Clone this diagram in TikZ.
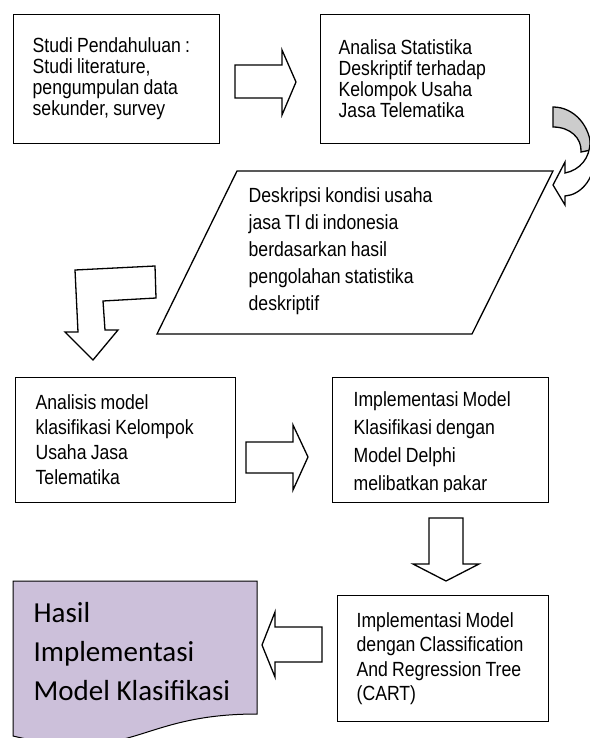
\documentclass[tikz,border=0pt]{standalone}
\usepackage{fontspec}
\setmainfont{Liberation Sans}[FakeStretch=0.86, WordSpace=0.86]
\newfontfamily\docfont{Carlito}
\usetikzlibrary{positioning}
\definecolor{figink}{HTML}{000000}
\definecolor{docfill}{HTML}{CCC0DA}
\definecolor{backfill}{HTML}{CCCCCC}

\begin{document}
\begin{tikzpicture}[
  x=1pt, y=-1pt,
  line width=1.3pt, line join=miter,
  box/.style = {draw=figink, line width=1.3pt, anchor=north west,
                align=flush left, inner xsep=19pt, inner ysep=0pt,
                font=\fontsize{20.5}{21}\selectfont},
  txt/.style = {anchor=west, align=left, inner sep=0pt},
  blockarrow/.style = {draw=figink, line width=1.3pt, fill=white}
]
\useasboundingbox (0,0) rectangle (589,738);

% baris atas
\node[box, text width=168pt, minimum width=206pt, minimum height=129pt]
  (studi) at (13,14)
  {Studi Pendahuluan :\\Studi literature,\\pengumpulan data\\sekunder, survey};
\node[box, inner xsep=18pt, text width=173pt, minimum width=209pt, minimum height=129pt]
  (analisa) at (320,14)
  {Analisa Statistika\\Deskriptif terhadap\\Kelompok Usaha\\Jasa Telematika};

% panah studi -> analisa
\draw[blockarrow] (235,65) -- (282,65) -- (282,50) -- (296,82)
  -- (282,115) -- (282,98) -- (235,98) -- cycle;

% panah lengkung (bagian belakang abu-abu)
\filldraw[draw=figink, fill=backfill] (553,107) .. controls (574,107) and (591,126) .. (591,150)
  -- (581,152) .. controls (582,138) and (570,127) .. (553,127) -- cycle;
\draw[blockarrow] (590,142) .. controls (590,158) and (580,170) .. (565,173)
  -- (565,162) -- (553,185) -- (565,205) -- (565,196)
  .. controls (580,195) and (594,180) .. (594,160) -- cycle;

% jajaran genjang deskripsi
\draw (237,171) -- (553,171) -- (472,334) -- (157,334) -- cycle;
\node[txt, font=\fontsize{20.5}{27}\selectfont] (deskripsi) at (248,251)
  {Deskripsi kondisi usaha\\jasa TI di indonesia\\berdasarkan hasil\\pengolahan statistika\\deskriptif};

% panah siku ke bawah
\draw[blockarrow] (75,270) -- (155,266) -- (156,298) -- (103,301) -- (105,330)
  -- (118,330) -- (93,360) -- (65,332) -- (78,332) -- cycle;

% baris tengah
\node[box, inner xsep=20pt, text width=180pt, minimum width=220pt, minimum height=125pt,
      font=\fontsize{20.5}{25}\selectfont]
  (analisis) at (15,377)
  {Analisis model\\klasifikasi Kelompok\\Usaha Jasa\\Telematika};
\node[box, minimum width=216pt, minimum height=125pt] (delphi) at (332,377) {};
\begin{scope}
  \clip (332,377) rectangle (548,491);
  \node[txt, font=\fontsize{20.5}{28}\selectfont] (delphitxt) at (353,443)
    {Implementasi Model\\Klasifikasi dengan\\Model Delphi\\melibatkan pakar};
\end{scope}

% panah analisis -> delphi
\draw[blockarrow] (246,442) -- (293,442) -- (293,425) -- (308,457)
  -- (293,490) -- (293,473) -- (246,473) -- cycle;

% panah delphi -> cart
\draw[blockarrow] (429,518) -- (463,518) -- (463,564) -- (479,564)
  -- (446,581) -- (413,564) -- (429,564) -- cycle;

% baris bawah
\node[box, text width=173pt, minimum width=211pt, minimum height=126pt,
      font=\fontsize{20.5}{24.5}\selectfont]
  (cart) at (337,595)
  {Implementasi Model\\dengan Classification\\And Regression Tree\\(CART)};

% panah cart -> hasil
\draw[blockarrow] (322,627) -- (275,627) -- (275,612) -- (262,645)
  -- (275,677) -- (275,662) -- (322,662) -- cycle;

% dokumen hasil
\filldraw[fill=docfill, draw=figink, line width=1pt] (13,581) -- (257,581) -- (257,714)
  .. controls (135,714) and (135,765) .. (13,736) -- cycle;
\node[txt, font=\docfont\fontsize{29}{39}\selectfont] (hasil) at (33,652)
  {Hasil\\Implementasi\\Model Klasifikasi};

\end{tikzpicture}
\end{document}
